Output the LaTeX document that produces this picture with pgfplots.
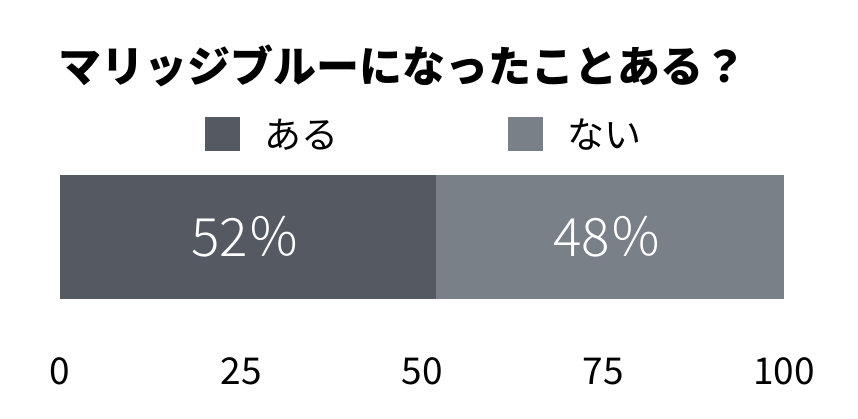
\documentclass[border=0pt]{standalone}
\usepackage{fontspec}
\setmainfont{Noto Sans CJK JP}
\newfontfamily\lightfont{Noto Sans CJK JP Light}
\usepackage{pgfplots}
\pgfplotsset{compat=1.18}
\definecolor{darkbar}{HTML}{555A62}
\definecolor{lightbar}{HTML}{7A8088}
\begin{document}
\begin{tikzpicture}[x=1pt,y=1pt]
\useasboundingbox (0,0) rectangle (858,418);
\node[anchor=base west,inner sep=0pt,font=\fontsize{43}{50}\selectfont\bfseries] at (58,335) {マリッジブルーになったことある？};
\begin{axis}[
    at={(60pt,119pt)}, anchor=south west,
    scale only axis, width=724pt, height=124pt,
    xmin=0, xmax=100, ymin=-0.5, ymax=0.5,
    xbar stacked, bar width=124pt,
    axis line style={draw=none}, tick style={draw=none},
    ytick=\empty,
    xtick={0,25,50,75,100},
    /pgf/number format/assume math mode=true,
    xticklabel style={anchor=base, yshift=-85pt, font=\fontsize{37}{44}\selectfont},
    legend columns=2,
    legend style={draw=none, fill=none, at={(0.2003,1.33)}, anchor=west,
        inner sep=0pt, font=\fontsize{37}{44}\selectfont,
        /tikz/every even column/.append style={column sep=168pt}},
    legend image code/.code={\fill[#1] (0pt,-17pt) rectangle (35pt,17pt);
        \path[draw=none,fill=none] (0pt,0pt) -- (57pt,0pt);},
]
\addplot[fill=darkbar, draw=none] coordinates {(52,0)};
\addplot[fill=lightbar, draw=none] coordinates {(48,0)};
\legend{ある, ない}
\coordinate (lab1) at (axis cs:25.7,0);
\coordinate (lab2) at (axis cs:75.7,0);
\end{axis}
\node[text=white, font=\fontsize{53}{60}\selectfont\lightfont] at (lab1) {52％};
\node[text=white, font=\fontsize{53}{60}\selectfont\lightfont] at (lab2) {48％};
\end{tikzpicture}
\end{document}
